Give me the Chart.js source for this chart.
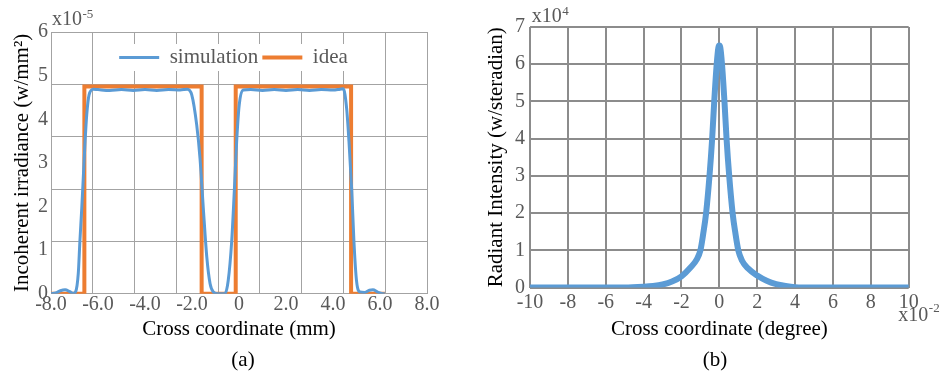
<!DOCTYPE html>
<html><head><meta charset="utf-8">
<script src="https://cdn.jsdelivr.net/npm/chart.js@4/dist/chart.umd.min.js"></script>
<style>
html,body{margin:0;padding:0;background:#fff;}
#wrap{position:relative;width:942px;height:377px;overflow:hidden;}
#b1{position:absolute;left:0;top:0;width:470px;height:377px;}
#b2{position:absolute;left:470px;top:0;width:472px;height:377px;}
</style></head><body>
<div id="wrap"><div id="b1"><canvas id="c1" width="470" height="377"></canvas></div><div id="b2"><canvas id="c2" width="472" height="377"></canvas></div></div>
<script>
// ---------- Chart (a) data : irradiance, units of 1e-5 w/mm^2 ----------
const simX = [-8.0,-7.8,-7.6,-7.4,-7.2,-7.05,-6.95,-6.84,-6.77,-6.69,
  -6.62,-6.55,-6.48,-6.38,-6.2,-6.0,-5.5,-5.0,-4.5,-4.0,
  -3.5,-3.0,-2.5,-2.2,-2.01,-1.8,-1.66,-1.52,-1.37,-1.23,
  -1.09,-0.9,-0.6,-0.46,-0.31,-0.2,-0.1,0.01,0.18,0.5,
  1.0,1.5,2.0,2.5,3.0,3.5,4.0,4.3,4.44,4.58,
  4.68,4.8,4.89,5.0,5.15,5.35,5.55,5.7,5.9,6.07,6.2];
const simY = [0,0.02,0.07,0.09,0.05,0.01,0.05,0.46,1.21,1.97,
  2.73,3.49,4.1,4.56,4.69,4.68,4.66,4.68,4.66,4.68,
  4.66,4.68,4.67,4.69,4.56,3.87,3.11,1.97,0.84,0.23,
  0.04,0.0,0.0,0.3,1.21,2.35,3.49,4.33,4.67,4.68,
  4.66,4.68,4.66,4.68,4.66,4.68,4.67,4.69,4.7,4.25,
  3.49,2.35,1.21,0.3,0.04,0.03,0.08,0.09,0.04,0.01,0];
const ideaX = [-8.0,-6.58,-6.58,-1.59,-1.59,-0.14,-0.14,4.77,4.77,6.21];
const ideaY = [0,0,4.75,4.75,0,0,4.75,4.75,0,0];
const seriesNamesA = ['simulation','idea'];
const xTicksA = [-8,-6,-4,-2,0,2,4,6,8];
const xLabelsA = ['-8.0','-6.0','-4.0','-2.0','0','2.0','4.0','6.0','8.0'];
const yTicksA = [0,1,2,3,4,5,6];
const yLabelsA = ['0','1','2','3','4','5','6'];
const xTitleA = 'Cross coordinate (mm)';
const yTitleA = 'Incoherent irradiance (w/mm\u00B2)';
const captionA = '(a)';
const expA = ['x10','-5'];

// ---------- Chart (b) data : radiant intensity, units of 1e4 w/sr, x in 1e-2 deg ----------
const radX = [-10,-8,-6,-5,-4,-3.5,-3,-2.5,-2,-1.5,-1.2,-1,-0.85,-0.7,-0.52,-0.38,-0.27,-0.14,-0.05,
  0,
  0.05,0.14,0.27,0.38,0.52,0.7,0.85,1,1.2,1.5,2,2.5,3,3.5,4,5,6,8,10];
const radY = [0,0,0,0,0.02,0.04,0.08,0.16,0.3,0.55,0.75,1.0,1.45,2.0,3.0,4.0,5.0,6.0,6.45,
  6.5,
  6.45,6.0,5.0,4.0,3.0,2.0,1.45,1.0,0.72,0.52,0.32,0.18,0.09,0.04,0.01,0,0,0,0];
const xTicksB = [-10,-8,-6,-4,-2,0,2,4,6,8,10];
const xLabelsB = ['-10','-8','-6','-4','-2','0','2','4','6','8','10'];
const yTicksB = [0,1,2,3,4,5,6,7];
const yLabelsB = ['0','1','2','3','4','5','6','7'];
const xTitleB = 'Cross coordinate (degree)';
const yTitleB = 'Radiant Intensity (w/steradian)';
const captionB = '(b)';
const expB1 = ['x10','4'];
const expB2 = ['x10','-2'];

// ---------- styling ----------
const serif = "'Liberation Serif', 'Times New Roman', Times, serif";
const TICK = '#595959';
const TITLE = '#000000';
const BLUE = '#5B9BD5';
const ORANGE = '#ED7D31';

const pts = (xs, ys) => xs.map((x, i) => ({x: x, y: ys[i]}));
const fixedTicks = (vals) => (s) => { s.ticks = vals.map(v => ({value: v})); };

const legendInside = {
  id: 'legendInside',
  beforeLayout(chart) {
    const lg = chart.legend;
    if (lg && !lg._inside) {
      const f = lg.fit;
      lg.fit = function () { f.call(this); this.height = 0; };
      lg._inside = true;
    }
  },
  afterLayout(chart, args, opts) {
    const lg = chart.legend;
    if (!lg || !opts.enabled) return;
    const ca = chart.chartArea;
    const cx = ca.left + opts.dx;
    lg.left = cx - 200; lg.right = cx + 200; lg.width = 400;
    lg.top = ca.top + opts.dy; lg.height = 30; lg.bottom = lg.top + 30;
  },
  beforeDatasetsDraw(chart, args, opts) {
    const lg = chart.legend;
    if (!lg || !opts.enabled || !lg.lineWidths) return;
    const pad = lg.options.labels.padding;
    const fs = lg.options.labels.font.size;
    const rowW = lg.lineWidths[0];
    const x0 = (lg.left + pad + lg.right - rowW) / 2;
    const ctx = chart.ctx;
    ctx.save();
    ctx.fillStyle = '#ffffff';
    ctx.fillRect(x0 - 3, lg.top + pad - 3, rowW - pad + 6, fs + 6);
    ctx.restore();
    lg.draw();
  }
};

const expLabels = {
  id: 'expLabels',
  afterDraw(chart, args, opts) {
    const ctx = chart.ctx, ca = chart.chartArea;
    (opts.items || []).forEach(it => {
      const x = (it.ax === 'right' ? ca.right : ca.left) + it.dx;
      const y = (it.ay === 'bottom' ? ca.bottom : ca.top) + it.dy;
      ctx.save();
      ctx.fillStyle = TICK; ctx.textAlign = 'left'; ctx.textBaseline = 'alphabetic';
      ctx.font = it.size + 'px ' + serif;
      ctx.fillText(it.text[0], x, y);
      const w = ctx.measureText(it.text[0]).width;
      ctx.font = it.supSize + 'px ' + serif;
      ctx.fillText(it.text[1], x + w + 0.5, y - it.raise);
      ctx.restore();
    });
  }
};

function draw() {
  // ------------- Chart (a) -------------
  new Chart(document.getElementById('c1'), {
    type: 'line',
    data: {
      datasets: [
        {label: seriesNamesA[0], data: pts(simX, simY), borderColor: BLUE, backgroundColor: BLUE,
         borderWidth: 3, pointRadius: 0, cubicInterpolationMode: 'monotone', xAxisID: 'x', yAxisID: 'y'},
        {label: seriesNamesA[1], data: pts(ideaX, ideaY), borderColor: ORANGE, backgroundColor: ORANGE,
         borderWidth: 4, pointRadius: 0, tension: 0, borderJoinStyle: 'miter', xAxisID: 'x', yAxisID: 'y'}
      ]
    },
    options: {
      responsive: false, animation: false, devicePixelRatio: 1,
      layout: {padding: {left: 16, right: 0, top: 32, bottom: 0}},
      plugins: {
        legend: {display: true, position: 'top',
          labels: {usePointStyle: true, pointStyle: 'line', pointStyleWidth: 40, padding: 4,
                   color: TICK, font: {family: serif, size: 21}}},
        title: {display: true, position: 'bottom', text: captionA, color: TITLE,
                font: {family: serif, size: 21, weight: 'normal'}, padding: {top: 4, bottom: 4}},
        tooltip: {enabled: false},
        legendInside: {enabled: true, dx: 182.5, dy: 11},
        expLabels: {items: [{text: expA, ax: 'left', ay: 'top', dx: 1, dy: -7, size: 20, supSize: 13, raise: 7}]}
      },
      scales: {
        x: {type: 'linear', position: 'bottom', min: -8, max: 8,
            afterBuildTicks: fixedTicks(xTicksA),
            grid: {display: false, drawTicks: false}, border: {display: false},
            ticks: {autoSkip: false, maxRotation: 0, padding: 1, color: TICK,
                    font: {family: serif, size: 20, lineHeight: 1},
                    callback: (v, i) => xLabelsA[i]},
            title: {display: true, text: xTitleA, color: TITLE, font: {family: serif, size: 21},
                    padding: {top: 0, bottom: 2}},
            afterFit: (s) => { s.height = 50; }},
        xg: {type: 'linear', position: 'bottom', min: 0, max: 9,
             ticks: {display: false, stepSize: 1},
             grid: {color: '#a3a3a3', lineWidth: 1, drawTicks: false}, border: {display: false},
             afterFit: (s) => { s.height = 0; }},
        y: {type: 'linear', position: 'left', min: 0, max: 6,
            afterBuildTicks: fixedTicks(yTicksA),
            grid: {display: false, drawTicks: false}, border: {display: false},
            ticks: {padding: 3, color: TICK, font: {family: serif, size: 20, lineHeight: 1},
                    callback: (v, i) => yLabelsA[i]},
            title: {display: true, text: yTitleA, color: TITLE, font: {family: serif, size: 21},
                    padding: {top: -6.6, bottom: 0}},
            afterFit: (s) => { s.width = 35; }},
        yg: {type: 'linear', position: 'left', min: 0, max: 5,
             ticks: {display: false, stepSize: 1},
             grid: {color: '#a3a3a3', lineWidth: 1, drawTicks: false}, border: {display: false},
             afterFit: (s) => { s.width = 0; }},
        r: {type: 'linear', position: 'right', display: true,
            ticks: {display: false}, grid: {display: false, drawTicks: false}, border: {display: false},
            afterFit: (s) => { s.width = 43; }}
      }
    },
    plugins: [legendInside, expLabels]
  });

  // ------------- Chart (b) -------------
  new Chart(document.getElementById('c2'), {
    type: 'line',
    data: {
      datasets: [
        {label: 'Radiant Intensity', data: pts(radX, radY), borderColor: BLUE, backgroundColor: BLUE,
         borderWidth: 6, pointRadius: 0, cubicInterpolationMode: 'monotone',
         borderCapStyle: 'round', borderJoinStyle: 'round'}
      ]
    },
    options: {
      responsive: false, animation: false, devicePixelRatio: 1,
      layout: {padding: {left: 18, right: 0, top: 27, bottom: 0}},
      plugins: {
        legend: {display: false},
        title: {display: true, position: 'bottom', text: captionB, color: TITLE,
                font: {family: serif, size: 21, weight: 'normal'}, padding: {top: 4, bottom: 4}},
        tooltip: {enabled: false},
        expLabels: {items: [
          {text: expB1, ax: 'left', ay: 'top', dx: 1.7, dy: -5, size: 20, supSize: 13, raise: 7},
          {text: expB2, ax: 'right', ay: 'bottom', dx: -10.4, dy: 33.3, size: 20, supSize: 13, raise: 9}
        ]}
      },
      scales: {
        x: {type: 'linear', position: 'bottom', min: -10, max: 10,
            afterBuildTicks: fixedTicks(xTicksB),
            grid: {color: '#8c8c8c', lineWidth: 2, drawTicks: false}, border: {display: false},
            ticks: {autoSkip: false, maxRotation: 0, padding: 5, color: TICK,
                    font: {family: serif, size: 20, lineHeight: 1},
                    callback: (v, i) => xLabelsB[i]},
            title: {display: true, text: xTitleB, color: TITLE, font: {family: serif, size: 21},
                    padding: {top: 0, bottom: 2}},
            afterFit: (s) => { s.height = 56.3; }},
        y: {type: 'linear', position: 'left', min: 0, max: 7,
            afterBuildTicks: fixedTicks(yTicksB),
            grid: {color: '#8c8c8c', lineWidth: 2, drawTicks: false}, border: {display: false},
            ticks: {padding: 5, color: TICK, font: {family: serif, size: 20, lineHeight: 1},
                    callback: (v, i) => yLabelsB[i]},
            title: {display: true, text: yTitleB, color: TITLE, font: {family: serif, size: 21},
                    padding: {top: -3.9, bottom: 0}},
            afterFit: (s) => { s.width = 42; }},
        r: {type: 'linear', position: 'right', display: true,
            ticks: {display: false}, grid: {display: false, drawTicks: false}, border: {display: false},
            afterFit: (s) => { s.width = 33.3; }}
      }
    },
    plugins: [expLabels]
  });
}

if (document.fonts && document.fonts.load) {
  Promise.all([document.fonts.load("20px 'Liberation Serif'")]).then(draw, draw);
} else { draw(); }
</script>
</body></html>
